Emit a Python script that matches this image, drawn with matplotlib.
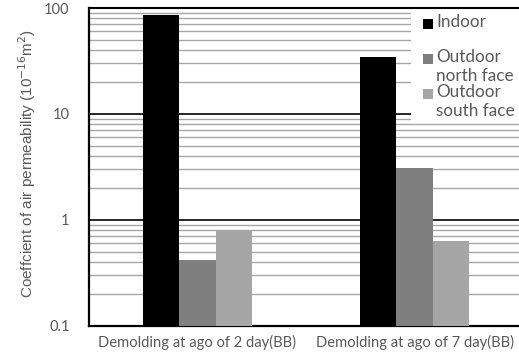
import matplotlib
matplotlib.use('Agg')
import matplotlib.pyplot as plt
import numpy as np
from matplotlib.patches import Rectangle
from matplotlib.ticker import LogLocator, FixedFormatter, FixedLocator

categories = ['Demolding at ago of 2 day(BB)', 'Demolding at ago of 7 day(BB)']
indoor = [85, 34.7]
north_face = [0.42, 3.1]
south_face = [0.80, 0.63]
series_names = ['Indoor', 'Outdoor\nnorth face', 'Outdoor\nsouth face']
colors = ['#000000', '#7f7f7f', '#a6a6a6']
ytick_vals = [0.1, 1, 10, 100]
ytick_labels = ['0.1', '1', '10', '100']

txt = '#595959'
plt.rcParams['font.family'] = ['Lato', 'DejaVu Sans']

fig = plt.figure(figsize=(5.19, 3.56), dpi=100)
ax = fig.add_axes([89/519, 30.4/356, 434/519, 317.6/356])

x = np.arange(len(categories))
w = 0.168
for i, vals in enumerate([indoor, north_face, south_face]):
    ax.bar(x + (i - 1) * w, vals, w, color=colors[i], zorder=3)

ax.set_yscale('log')
ax.set_ylim(0.1, 100)
ax.set_xlim(-0.5, 1.5)
ax.yaxis.set_major_locator(FixedLocator(ytick_vals))
ax.yaxis.set_major_formatter(FixedFormatter(ytick_labels))
ax.yaxis.set_minor_locator(LogLocator(base=10, subs=np.arange(2, 10)))
ax.yaxis.set_minor_formatter(FixedFormatter([]))
ax.grid(which='minor', axis='y', color='#a6a6a6', linewidth=1.0, zorder=1)
ax.grid(which='major', axis='y', color='#000000', linewidth=1.2, zorder=1)
ax.set_xticks(x)
ax.set_xticklabels(categories, fontsize=10.6, color=txt)
ax.tick_params(axis='y', which='both', length=0, labelsize=10.5, labelcolor=txt, pad=14)
ax.tick_params(axis='x', length=0, pad=7)
ax.spines['right'].set_visible(False)
ax.spines['top'].set_linewidth(1.5)
ax.spines['top'].set_zorder(7)
ax.spines['left'].set_linewidth(1.6)
ax.spines['bottom'].set_linewidth(1.6)

ax.set_ylabel('Coeffcient of air permeability (10$^{-16}$m$^2$)', color=txt,
              fontsize=11.0, family='Liberation Sans')
ax.yaxis.set_label_coords(-0.117, 0.51)

# legend drawn by hand to keep the squares level with the first text line
tr = ax.transAxes
def px(xp, yp):
    return ((xp - 89) / 434, (325.6 - yp) / 317.6)

bx0, by0 = px(411, 121)
bx1, by1 = px(523, 9)
ax.add_patch(Rectangle((bx0, by0), bx1 - bx0, by1 - by0, transform=tr,
                       facecolor='white', edgecolor='none', zorder=4))
rows = [24, 59, 94]
for name, c, yp in zip(series_names, colors, rows):
    sx, sy = px(423, yp + 5)
    sx2, sy2 = px(433, yp - 5)
    ax.add_patch(Rectangle((sx, sy), sx2 - sx, sy2 - sy, transform=tr,
                           facecolor=c, edgecolor='none', zorder=5))
    tx, ty = px(436, yp - 10)
    ax.text(tx, ty, name, transform=tr, fontsize=12.3, color=txt, va='top',
            ha='left', linespacing=1.2, zorder=6)

fig.savefig('out.png', dpi=100)
